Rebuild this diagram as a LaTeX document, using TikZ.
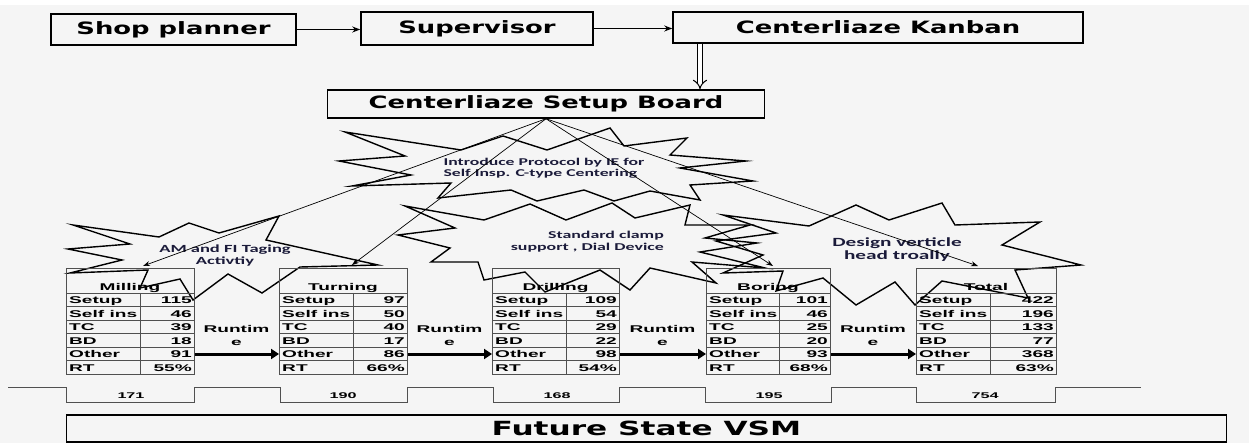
\documentclass[tikz,border=0pt]{standalone}
\usepackage{fontspec}
\usetikzlibrary{arrows.meta}
\newfontfamily\topfont{DejaVu Sans}[FakeStretch=1.52]
\newfontfamily\futfont{DejaVu Sans}[FakeStretch=1.6]
\newfontfamily\tabfont{Liberation Sans}[FakeStretch=1.95]
\newfontfamily\starfont{Carlito}[FakeStretch=1.7]
\definecolor{bg}{HTML}{F5F5F5}
\definecolor{tline}{HTML}{505050}
\definecolor{starblue}{HTML}{1B1B3A}
\tikzset{
  topbox/.style={draw, line width=1.5pt, inner sep=0pt, font=\topfont\bfseries\fontsize{17}{20}\selectfont},
  tabtxt/.style={inner sep=0pt, font=\tabfont\bfseries\fontsize{9.8}{11}\selectfont},
  smalltxt/.style={inner sep=0pt, font=\tabfont\bfseries\fontsize{8.3}{9}\selectfont},
  startxt/.style={inner sep=0pt, text=starblue},
  starline/.style={draw, line width=1.4pt, line join=miter, miter limit=20},
  boardline/.style={line width=0.7pt, -{Stealth[length=7pt,width=5pt]}},
  toparrow/.style={line width=1.8pt, -{Stealth[length=8pt,width=6pt]}},
  runarrow/.style={line width=3pt, -{Triangle[length=8pt,width=10pt]}},
  gridline/.style={draw=tline, line width=0.7pt},
}
\newcommand\vsmtable[6]{%
  \node[draw=tline, line width=0.9pt, minimum width=#3, minimum height=106, inner sep=0pt, anchor=north west] (#1) at (#2,268) {};
  \node[tabtxt, anchor=base] (#1-title) at ({#2+#3/2},290.5) {#5};
  \foreach \lab/\val [count=\i] in {#6} {
    \pgfmathsetmacro\ry{293+13.5*(\i-1)}
    \draw[gridline] (#2,\ry) -- ++(#3,0);
    \node[tabtxt, anchor=base west] (#1-l\i) at ({#2+3},{\ry+10.8}) {\lab};
    \node[tabtxt, anchor=base east] (#1-v\i) at ({#2+#3-2},{\ry+10.8}) {\val};
  }
  \draw[gridline] ({#2+#4},293) -- ({#2+#4},374);
}
\begin{document}
\begin{tikzpicture}[x=1pt,y=-1pt]
\useasboundingbox (0,0) rectangle (1249,443);
\fill[bg] (0,5) rectangle (1249,443);
\fill[white] (0,0) rectangle (1249,5);

% top boxes
\node[topbox, minimum width=245, minimum height=31] (shop) at (173.5,29.5) {Shop planner};
\node[topbox, minimum width=232, minimum height=33] (sup) at (477,28.5) {Supervisor};
\node[topbox, minimum width=410, minimum height=31] (kanban) at (878,27.5) {Centerliaze Kanban};
\node[topbox, minimum width=437, minimum height=28] (board) at (546,104) {Centerliaze Setup Board};
\node[topbox, minimum width=1160, minimum height=27, font=\futfont\bfseries\fontsize{19.5}{22}\selectfont] (future) at (646.5,428.5) {Future State VSM};

\draw[toparrow] (shop.east) -- (shop.east -| sup.west);
\draw[toparrow] (sup.east) -- (sup.east -| kanban.west);
\coordinate (dx) at (700,0);
\draw[line width=1pt, double distance=4pt, -{Implies}] (kanban.south -| dx) -- (board.north -| dx);

% explosions
\draw[starline] (345,132) -- (461,150) -- (503,136) -- (547,150) -- (610,128) -- (624,146) -- (687,138) -- (670,155) -- (746,161) -- (680,168) -- (753,181) -- (690,185) -- (700,200) -- (650,191) -- (614,201) -- (584,190) -- (537,201) -- (511,190) -- (438,198) -- (451,183) -- (352,186) -- (411,175) -- (339,161) -- (405,156) -- cycle;
\draw[starline] (73,225) -- (159,237) -- (189,223) -- (219,233) -- (279,216) -- (266,240) -- (378,265) -- (300,267) -- (262,293) -- (228,274) -- (193,300) -- (180,279) -- (140,288) -- (148,270) -- (70,273) -- (122,260) -- (68,249) -- (130,244) -- cycle;
\draw[starline] (405,206) -- (484,220) -- (530,204) -- (566,220) -- (612,203) -- (635,218) -- (690,205) -- (685,225) -- (750,225) -- (705,238) -- (757,243) -- (700,252) -- (765,268) -- (692,262) -- (716,283) -- (650,268) -- (630,290) -- (600,270) -- (545,292) -- (525,272) -- (484,280) -- (478,262) -- (431,262) -- (450,248) -- (398,235) -- (455,228) -- cycle;
\draw[starline] (723,215) -- (809,226) -- (856,205) -- (889,220) -- (942,203) -- (955,225) -- (1040,222) -- (1002,245) -- (1081,265) -- (1015,270) -- (1028,298) -- (942,281) -- (915,305) -- (895,282) -- (856,305) -- (823,278) -- (776,291) -- (783,271) -- (723,273) -- (763,255) -- (716,241) -- (776,233) -- cycle;

\node[startxt, align=left, font=\starfont\bfseries\fontsize{10.4}{10.5}\selectfont] (t1) at (544,168) {Introduce Protocol by IE for\\Self Insp. C-type Centering};
\node[startxt, align=center, font=\starfont\bfseries\fontsize{10.9}{12}\selectfont] (t2) at (225,256) {AM and FI Taging\\Activtiy};
\node[startxt, align=right, anchor=east, font=\starfont\bfseries\fontsize{10.5}{12}\selectfont] (t3) at (664,242) {Standard clamp\\support , Dial Device};
\node[startxt, align=center, font=\starfont\bfseries\fontsize{12.5}{13}\selectfont] (t4) at (897,249.5) {Design verticle\\head troally};

% tables
\vsmtable{mill}{66}{128}{74}{Milling}{Setup/115,Self ins/46,TC/39,BD/18,Other/91,RT/55\%}
\vsmtable{turn}{279}{128}{74}{Turning}{Setup/97,Self ins/50,TC/40,BD/17,Other/86,RT/66\%}
\vsmtable{drill}{492}{127}{74}{Drilling}{Setup/109,Self ins/54,TC/29,BD/22,Other/98,RT/54\%}
\vsmtable{bore}{706}{124}{73}{Boring}{Setup/101,Self ins/46,TC/25,BD/20,Other/93,RT/68\%}
\vsmtable{total}{916}{140}{74}{Total}{Setup/422,Self ins/196,TC/133,BD/77,Other/368,RT/63\%}

% board lines
\coordinate (a1) at (143,266);
\coordinate (a2) at (352,265);
\coordinate (a3) at (773,266);
\coordinate (a4) at (978,266);
\foreach \t in {a1,a2,a3,a4} \draw[boardline] (board.south) -- (\t);

% runtime arrows
\coordinate (ry) at (0,354);
\draw[runarrow] (mill.east |- ry) -- (turn.west |- ry);
\draw[runarrow] (turn.east |- ry) -- (drill.west |- ry);
\draw[runarrow] (drill.east |- ry) -- (bore.west |- ry);
\draw[runarrow] (bore.east |- ry) -- (total.west |- ry);
\node[tabtxt, anchor=base] (r1a) at (236.5,332) {Runtim};
\node[tabtxt, anchor=base] (r1b) at (236.5,345) {e};
\node[tabtxt, anchor=base] (r2a) at (449.5,332) {Runtim};
\node[tabtxt, anchor=base] (r2b) at (449.5,345) {e};
\node[tabtxt, anchor=base] (r3a) at (662.5,332) {Runtim};
\node[tabtxt, anchor=base] (r3b) at (662.5,345) {e};
\node[tabtxt, anchor=base] (r4a) at (873,332) {Runtim};
\node[tabtxt, anchor=base] (r4b) at (873,345) {e};

% timeline
\draw[tline, line width=0.8pt] (8,387) -- (66.5,387) -- (66.5,402) -- (194,402) -- (194,387) -- (280,387) -- (280,402) -- (407,402) -- (407,387) -- (493,387) -- (493,402) -- (619,402) -- (619,387) -- (705,387) -- (705,402) -- (831,402) -- (831,387) -- (916,387) -- (916,402) -- (1055,402) -- (1055,387) -- (1141,387);
\node[smalltxt, anchor=base] (c1) at (131,398) {171};
\node[smalltxt, anchor=base] (c2) at (343,398) {190};
\node[smalltxt, anchor=base] (c3) at (557,398) {168};
\node[smalltxt, anchor=base] (c4) at (769,398) {195};
\node[smalltxt, anchor=base] (c5) at (985,398) {754};
\end{tikzpicture}
\end{document}
